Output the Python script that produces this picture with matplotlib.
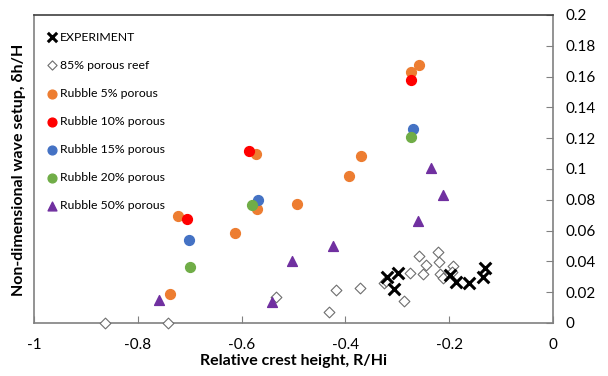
import matplotlib
matplotlib.use("Agg")
import matplotlib.pyplot as plt

plt.rcParams['font.family'] = ['Lato', 'DejaVu Sans']

# Data
exp_x = [-0.3205, -0.298, -0.306, -0.1985, -0.187, -0.1625, -0.131, -0.134]
exp_y = [0.030, 0.0327, 0.0219, 0.0312, 0.0264, 0.0262, 0.0355, 0.030]

reef_x = [-0.864, -0.741, -0.533, -0.431, -0.418, -0.372, -0.3256, -0.322, -0.2755,
          -0.2865, -0.2576, -0.245, -0.250, -0.221, -0.219, -0.2177, -0.2125, -0.192, -0.195]
reef_y = [0.0, 0.0, 0.0171, 0.0071, 0.0214, 0.0227, 0.0262, 0.0275, 0.0323,
          0.0145, 0.0435, 0.0377, 0.0316, 0.0463, 0.0398, 0.0316, 0.029, 0.037, 0.0333]

r5_x = [-0.2576, -0.2736, -0.370, -0.394, -0.494, -0.572, -0.571, -0.613, -0.7225, -0.737]
r5_y = [0.1675, 0.1628, 0.1086, 0.0952, 0.0773, 0.1095, 0.0738, 0.0586, 0.0695, 0.019]

r10_x = [-0.274, -0.585, -0.7058]
r10_y = [0.1576, 0.1117, 0.0673]

r15_x = [-0.270, -0.568, -0.702]
r15_y = [0.1262, 0.0799, 0.0537]

r20_x = [-0.274, -0.579, -0.699]
r20_y = [0.1208, 0.0766, 0.0364]

r50_x = [-0.236, -0.211, -0.2595, -0.423, -0.503, -0.541, -0.760]
r50_y = [0.1009, 0.0831, 0.0664, 0.0502, 0.0405, 0.0139, 0.0149]

xticks = [-1, -0.8, -0.6, -0.4, -0.2, 0]
xticklabels = ['-1', '-0.8', '-0.6', '-0.4', '-0.2', '0']
yticks = [0, 0.02, 0.04, 0.06, 0.08, 0.1, 0.12, 0.14, 0.16, 0.18, 0.2]
yticklabels = ['0', '0.02', '0.04', '0.06', '0.08', '0.1', '0.12', '0.14', '0.16', '0.18', '0.2']

fig = plt.figure(figsize=(6.08, 3.76), dpi=100)
ax = fig.add_axes([34/608, 1-323/376, (553-34)/608, (323-15)/376])

ms = 50
ax.scatter(exp_x, exp_y, marker='x', s=70, color='black', linewidths=2.2,
           label='EXPERIMENT', zorder=5, clip_on=False)
ax.scatter(reef_x, reef_y, marker='D', s=30, facecolor='white', edgecolor='#6e6e6e',
           linewidths=0.8, label='85% porous reef', zorder=3, clip_on=False)
ax.scatter(r5_x, r5_y, marker='o', s=ms, color='#ED7D31', label='Rubble 5% porous', zorder=4)
ax.scatter(r10_x, r10_y, marker='o', s=ms, color='#FF0000', label='Rubble 10% porous', zorder=4)
ax.scatter(r15_x, r15_y, marker='o', s=ms, color='#4472C4', label='Rubble 15% porous', zorder=4)
ax.scatter(r20_x, r20_y, marker='o', s=ms, color='#70AD47', label='Rubble 20% porous', zorder=4)
ax.scatter(r50_x, r50_y, marker='^', s=ms, color='#7030A0', label='Rubble 50% porous', zorder=4)

ax.set_xlim(-1, 0)
ax.set_ylim(0, 0.2)
ax.set_xticks(xticks)
ax.set_xticklabels(xticklabels)
ax.set_yticks(yticks)
ax.set_yticklabels(yticklabels)
ax.yaxis.tick_right()
ax.tick_params(axis='x', direction='in', length=5, color='#808080', labelsize=11, pad=11)
ax.tick_params(axis='y', direction='in', length=5, color='#808080', labelsize=11, pad=9)
for lab in ax.get_yticklabels():
    lab.set_horizontalalignment('left')

for s in ax.spines.values():
    s.set_color('#808080')
    s.set_linewidth(1.2)
ax.spines['top'].set_color('#404040')

ax.set_xlabel('Relative crest height, R/Hi', fontsize=11.5, fontweight='bold', labelpad=1)
fig.text(19/608, 1-170/376, 'Non-dimensional wave setup, δh/H', rotation=90,
         fontsize=11.5, fontweight='bold', ha='center', va='center')

leg = ax.legend(loc='upper left', frameon=False, fontsize=8.8, handletextpad=0.0,
                labelspacing=1.4, borderaxespad=0.0, bbox_to_anchor=(0.008, 0.962),
                scatterpoints=1, handlelength=1.4)
sizes = [45, 22, 40, 40, 40, 40, 40]
for h, sz in zip(leg.legend_handles, sizes):
    h.set_sizes([sz])

fig.savefig('out.png', dpi=100)
